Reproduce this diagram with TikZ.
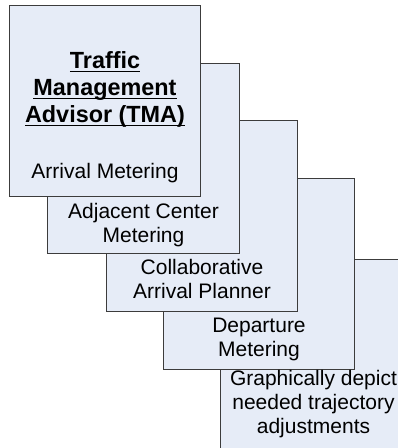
\documentclass[tikz,border=0pt]{standalone}
\usepackage{fontspec}
\setmainfont{Liberation Sans}
\usetikzlibrary{positioning}

\definecolor{cardfill}{RGB}{230,236,247}
\definecolor{cardline}{RGB}{60,60,60}
\newcommand\ulined[1]{\setbox0\hbox{#1}\rlap{\rule[-3.5pt]{\wd0}{1.6pt}}\box0}
\newcommand\titlefont{\fontsize{23.4}{27}\selectfont\bfseries}

\begin{document}
\begin{tikzpicture}[x=1pt,y=-1pt,
    card/.style={rectangle,draw=cardline,fill=cardfill,line width=1pt,minimum width=191pt,minimum height=191pt,anchor=north west,inner sep=0pt},
    cardtext/.style={align=center,inner sep=0pt,text depth=0pt,font=\fontsize{21}{24}\selectfont}] %
    \clip (0,0) rectangle (398,448) ; %
    % back to front
    \node[card,minimum width=182pt] (depict) at (220,259) {} ; %
    \node[card] (dep) at (163,178) {} ; %
    \node[card] (cap) at (106,120) {} ; %
    \node[card,minimum width=192pt,minimum height=190pt] (adj) at (47,63) {} ; %
    \node[card] (tma) at (9,5) {} ; %
    \node[cardtext, above=17pt of depict.south, xshift=2pt] (depicttxt) {Graphically depict\\needed trajectory\\adjustments};
    \node[cardtext, above=13pt of dep.south] (deptxt) {Departure\\Metering};
    \node[cardtext, above=13pt of cap.south] (captxt) {Collaborative\\Arrival Planner};
    \node[cardtext, above=11pt of adj.south] (adjtxt) {Adjacent Center\\Metering};
    \node[cardtext, above=18pt of tma.south, font=\fontsize{21}{27}\selectfont] (tmatxt)
      {{\titlefont\ulined{Traffic}}\\{\titlefont\ulined{Management}}\\{\titlefont\ulined{Advisor (TMA)}}\\[29pt]Arrival Metering};
  \end{tikzpicture}
\end{document}
